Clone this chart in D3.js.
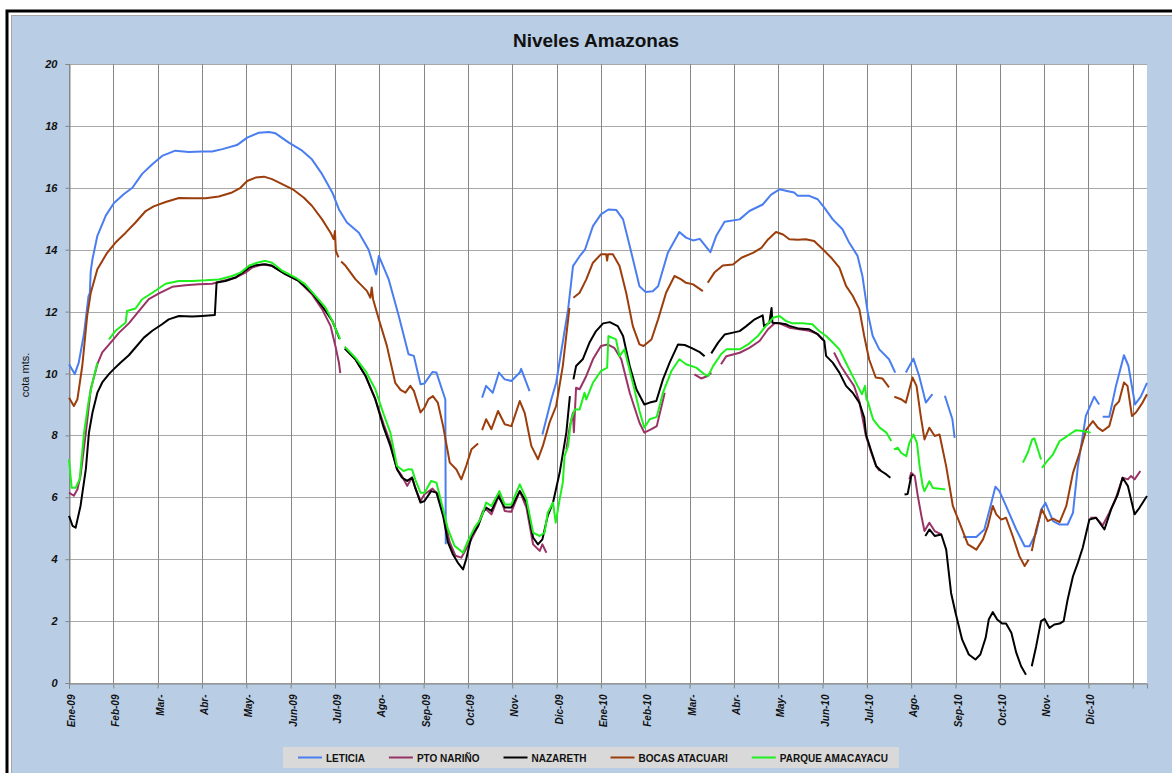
<!DOCTYPE html>
<html>
<head>
<meta charset="utf-8">
<script src="https://cdn.jsdelivr.net/npm/d3@7"></script>
<style>
  body { margin: 0; background: #ffffff; }
  svg text { font-family: "Liberation Sans", Arial, sans-serif; }
</style>
</head>
<body>
<svg id="chart" width="1172" height="773"></svg>
<script>
// Month labels along the category axis (one every month, Jan 2009 .. Jan 2011)
const monthLabels = ["Ene-09","Feb-09","Mar-","Abr-","May-","Jun-09","Jul-09","Ago-","Sep-09","Oct-09","Nov-","Dic-09",
  "Ene-10","Feb-10","Mar-","Abr-","May-","Jun-10","Jul-10","Ago-","Sep-10","Oct-10","Nov-","Dic-10",""];
const yTicks = [0, 2, 4, 6, 8, 10, 12, 14, 16, 18, 20];
const seriesNames = ["LETICIA", "PTO NARIÑO", "NAZARETH", "BOCAS ATACUARI", "PARQUE AMACAYACU"];

// Each station: [month offset since Ene-09, level in metres]; null marks a gap in the record
const leticia = [[0.0,10.3],[0.13,9.98],[0.22,10.35],[0.34,11.3],[0.44,12.5],[0.47,12.6],[0.49,13.3],[0.53,13.7],[0.64,14.45],[0.83,15.1],[1.01,15.5],[1.24,15.8],[1.43,16.0],[1.65,16.45],[1.88,16.76],[2.1,17.03],[2.4,17.2],[2.7,17.16],[3.0,17.17],[3.23,17.17],[3.46,17.25],[3.79,17.38],[4.02,17.62],[4.28,17.78],[4.51,17.8],[4.66,17.76],[4.96,17.46],[5.26,17.2],[5.48,16.92],[5.71,16.44],[5.94,15.85],[6.09,15.3],[6.27,14.88],[6.54,14.55],[6.76,14.0],[6.93,13.2],[6.99,13.8],[7.21,13.05],[7.44,11.86],[7.66,10.62],[7.78,10.57],[7.93,9.65],[8.02,9.68],[8.2,10.05],[8.29,10.03],[8.44,9.38],[8.49,9.16],[8.5,4.48],null,
  [9.32,9.22],[9.41,9.6],[9.56,9.38],[9.7,10.03],[9.83,9.81],[9.98,9.76],[10.17,10.03],[10.2,10.15],[10.39,9.43],null,
  [10.68,8.03],[10.88,9.16],[10.99,9.7],[11.1,10.67],[11.26,12.07],[11.37,13.47],[11.52,13.79],[11.64,14.0],[11.82,14.76],[12.0,15.14],[12.17,15.3],[12.35,15.28],[12.5,14.98],[12.65,14.12],[12.87,12.82],[13.01,12.63],[13.17,12.66],[13.29,12.82],[13.51,13.9],[13.77,14.57],[13.92,14.39],[14.08,14.3],[14.23,14.35],[14.47,13.92],[14.6,14.44],[14.79,14.9],[15.13,14.98],[15.35,15.25],[15.65,15.46],[15.84,15.78],[16.03,15.95],[16.22,15.89],[16.36,15.85],[16.44,15.74],[16.7,15.74],[16.89,15.63],[17.04,15.36],[17.23,14.98],[17.45,14.66],[17.6,14.23],[17.79,13.8],[17.9,13.15],[18.02,11.97],[18.13,11.22],[18.28,10.78],[18.5,10.46],[18.64,10.03],null,
  [18.88,10.03],[19.05,10.48],[19.18,9.92],[19.33,9.06],[19.48,9.33],null,
  [19.76,9.28],[19.93,8.52],[19.98,7.92],null,
  [20.17,4.72],[20.47,4.72],[20.65,4.96],[20.79,5.72],[20.9,6.34],[20.99,6.2],[21.14,5.72],[21.37,4.96],[21.56,4.42],[21.67,4.42],[21.82,4.85],[21.93,5.6],[22.03,5.82],[22.2,5.23],[22.35,5.12],[22.53,5.12],[22.65,5.5],[22.76,7.0],[22.87,7.98],[22.94,8.63],[23.13,9.25],[23.24,9.0],null,
  [23.32,8.6],[23.47,8.6],[23.62,9.6],[23.8,10.59],[23.9,10.25],[24.05,9.0],[24.18,9.25],[24.32,9.7]];

const ptoNarino = [[0.0,6.15],[0.11,6.05],[0.19,6.26],[0.26,6.69],[0.38,8.09],[0.49,9.49],[0.64,10.3],[0.75,10.68],[0.94,11.0],[1.13,11.32],[1.35,11.62],[1.58,12.02],[1.8,12.4],[2.03,12.59],[2.33,12.8],[2.63,12.85],[2.93,12.88],[3.23,12.9],[3.46,12.99],[3.76,13.1],[3.98,13.26],[4.13,13.42],[4.36,13.52],[4.58,13.48],[4.88,13.21],[5.18,12.99],[5.48,12.56],[5.71,12.08],[5.9,11.54],[6.01,10.89],[6.09,10.35],[6.12,10.01],null,
  [6.24,10.81],[6.46,10.46],[6.69,9.92],[6.91,9.17],[7.1,8.36],[7.25,7.77],[7.4,6.91],[7.51,6.69],[7.63,6.37],[7.74,6.64],[7.81,6.31],[7.93,5.88],[8.02,6.1],[8.2,6.28],[8.32,6.1],[8.47,5.29],[8.59,4.54],[8.72,4.11],[8.85,4.05],[9.04,4.54],[9.19,4.97],[9.34,5.56],[9.41,5.61],[9.53,5.45],[9.71,6.1],[9.83,5.56],[9.98,5.53],[10.17,6.2],[10.32,5.67],[10.47,4.48],[10.62,4.27],[10.68,4.48],[10.77,4.21],null,
  [11.22,7.55],[11.3,8.3],[11.37,8.73],[11.39,8.1],[11.44,9.54],[11.52,9.49],[11.67,9.92],[11.82,10.46],[12.0,10.89],[12.15,10.94],[12.3,10.83],[12.46,10.46],[12.65,9.38],[12.87,8.41],[12.98,8.09],[13.14,8.2],[13.26,8.3],[13.44,9.38],null,
  [14.11,9.97],[14.26,9.84],[14.41,9.92],[14.49,10.03],null,
  [14.71,10.3],[14.83,10.56],[15.13,10.67],[15.35,10.83],[15.58,11.05],[15.77,11.43],[15.92,11.62],[16.03,11.62],[16.25,11.48],[16.47,11.43],[16.7,11.38],[16.89,11.27],[17.0,11.1],null,
  [17.26,10.68],[17.41,10.25],[17.56,9.92],[17.71,9.6],[17.83,9.1],[17.98,7.98],[18.1,7.44],[18.21,7.0],[18.29,6.85],null,
  [18.96,6.58],[19.0,6.79],[19.08,6.69],[19.15,6.04],[19.23,5.4],[19.3,4.91],[19.41,5.18],[19.53,4.91],[19.68,4.8],null,
  [23.04,5.34],[23.17,5.34],[23.32,5.09],[23.47,5.5],[23.62,5.98],[23.77,6.63],[23.89,6.58],[23.96,6.69],[24.04,6.58],[24.17,6.85]];

const nazareth = [[0.0,5.4],[0.08,5.08],[0.15,5.02],[0.26,5.72],[0.38,6.91],[0.45,8.09],[0.53,8.74],[0.64,9.38],[0.75,9.71],[0.9,9.98],[1.01,10.14],[1.16,10.35],[1.35,10.59],[1.5,10.84],[1.69,11.16],[1.88,11.38],[2.1,11.59],[2.25,11.75],[2.48,11.86],[2.78,11.84],[3.0,11.86],[3.29,11.89],[3.33,12.94],[3.53,12.99],[3.76,13.1],[3.91,13.26],[4.06,13.42],[4.21,13.5],[4.43,13.53],[4.58,13.48],[4.88,13.21],[5.18,12.99],[5.48,12.61],[5.71,12.18],[5.94,11.7],[6.05,11.32],[6.1,11.13],null,
  [6.22,10.81],[6.46,10.46],[6.69,9.92],[6.91,9.17],[7.1,8.25],[7.25,7.66],[7.4,6.91],[7.51,6.64],[7.63,6.53],[7.74,6.64],[7.81,6.31],[7.93,5.83],[8.02,5.88],[8.17,6.2],[8.29,6.15],[8.44,5.4],[8.55,4.54],[8.66,4.16],[8.77,3.89],[8.89,3.67],[8.96,4.0],[9.08,4.75],[9.23,5.07],[9.34,5.5],[9.41,5.67],[9.53,5.56],[9.68,6.04],[9.83,5.67],[9.98,5.67],[10.17,6.2],[10.32,5.83],[10.47,4.7],[10.58,4.48],[10.68,4.64],[10.8,5.4],[10.92,5.83],[11.07,6.8],[11.22,8.09],[11.3,9.27],null,
  [11.38,9.81],[11.44,10.24],[11.59,10.46],[11.74,10.99],[11.89,11.37],[12.05,11.62],[12.2,11.66],[12.38,11.53],[12.5,11.21],[12.65,10.24],[12.8,9.49],[12.98,9.0],[13.1,9.06],[13.25,9.11],[13.4,9.81],[13.55,10.35],[13.74,10.94],[13.89,10.92],[14.04,10.83],[14.23,10.69],[14.34,10.56],null,
  [14.49,10.65],[14.64,10.99],[14.79,11.26],[14.98,11.32],[15.13,11.37],[15.28,11.53],[15.47,11.75],[15.65,11.88],[15.68,11.53],[15.8,11.64],[15.85,12.12],[15.87,11.64],[16.03,11.62],[16.18,11.59],[16.25,11.54],[16.47,11.45],[16.7,11.43],[16.89,11.27],[17.04,11.05],[17.08,10.57],[17.23,10.35],[17.38,10.03],[17.53,9.6],[17.68,9.38],[17.83,9.06],[17.94,8.58],[17.98,8.03],[18.1,7.49],[18.21,7.01],[18.32,6.85],[18.44,6.74],[18.53,6.63],null,
  [18.85,6.09],[18.92,6.11],[19.0,6.69],[19.04,6.74],null,
  [19.32,4.75],[19.41,4.96],[19.53,4.75],[19.68,4.8],[19.79,4.31],[19.9,2.91],[20.0,2.27],[20.15,1.4],[20.3,0.92],[20.45,0.76],[20.56,0.92],[20.68,1.46],[20.75,2.05],[20.84,2.29],[20.94,2.05],[21.05,1.92],[21.14,1.92],[21.26,1.62],[21.37,0.98],[21.48,0.54],[21.59,0.27],null,
  [21.72,0.54],[21.82,1.19],[21.93,2.0],[22.01,2.07],[22.12,1.78],[22.23,1.89],[22.35,1.92],[22.44,2.0],[22.53,2.7],[22.65,3.45],[22.76,3.88],[22.87,4.37],[23.02,5.28],[23.17,5.34],[23.36,4.96],[23.51,5.61],[23.66,6.09],[23.77,6.63],[23.89,6.36],[24.04,5.45],[24.15,5.66],[24.32,6.04]];

const bocasAtacuari = [[0.0,9.22],[0.11,8.95],[0.19,9.17],[0.3,10.25],[0.41,11.86],[0.49,12.6],[0.64,13.37],[0.86,13.9],[1.05,14.23],[1.28,14.55],[1.5,14.88],[1.73,15.25],[1.91,15.4],[2.18,15.54],[2.48,15.67],[2.78,15.66],[3.08,15.66],[3.38,15.72],[3.68,15.85],[3.87,16.0],[4.02,16.22],[4.21,16.33],[4.4,16.36],[4.58,16.28],[4.81,16.12],[5.07,15.93],[5.3,15.68],[5.48,15.42],[5.71,14.98],[5.9,14.55],[5.97,14.34],[6.0,14.6],[6.02,13.96],[6.08,13.75],null,
  [6.14,13.62],[6.24,13.48],[6.46,13.05],[6.72,12.67],[6.8,12.45],[6.83,12.78],[6.86,12.4],[6.99,11.75],[7.17,10.9],[7.36,9.7],[7.48,9.47],[7.59,9.38],[7.7,9.6],[7.78,9.44],[7.93,8.74],[8.02,8.9],[8.11,9.17],[8.21,9.27],[8.32,9.06],[8.44,8.3],[8.59,7.12],[8.74,6.9],[8.85,6.58],[8.96,7.01],[9.08,7.55],[9.23,7.74],null,
  [9.32,8.17],[9.41,8.52],[9.53,8.2],[9.68,8.79],[9.83,8.36],[9.98,8.3],[10.17,9.11],[10.28,8.73],[10.43,7.66],[10.58,7.23],[10.69,7.66],[10.84,8.41],[10.99,8.95],[11.14,10.24],[11.29,12.12],null,
  [11.38,12.45],[11.52,12.61],[11.67,13.04],[11.82,13.58],[12.0,13.85],[12.12,13.85],[12.14,13.65],[12.16,13.85],[12.27,13.85],[12.42,13.47],[12.57,12.61],[12.72,11.53],[12.87,10.94],[12.96,10.89],[13.14,11.1],[13.29,11.75],[13.47,12.61],[13.66,13.15],[13.81,13.04],[13.92,12.93],[14.08,12.88],[14.3,12.66],null,
  [14.41,12.93],[14.56,13.26],[14.75,13.49],[14.98,13.52],[15.17,13.74],[15.43,13.9],[15.62,14.06],[15.77,14.33],[15.95,14.57],[16.11,14.49],[16.25,14.34],[16.44,14.32],[16.62,14.34],[16.81,14.28],[17.0,14.02],[17.19,13.75],[17.38,13.42],[17.53,12.83],[17.68,12.51],[17.83,12.08],[17.94,11.21],[18.05,10.46],[18.2,9.87],[18.35,9.84],[18.5,9.55],null,
  [18.62,9.25],[18.77,9.17],[18.88,9.06],[19.03,9.87],[19.12,9.6],[19.22,8.58],[19.3,7.87],[19.41,8.25],[19.53,7.98],[19.64,8.03],[19.79,7.0],[19.94,5.72],[20.09,5.18],[20.28,4.48],[20.47,4.31],[20.62,4.64],[20.73,5.07],[20.84,5.72],[20.92,5.45],[21.03,5.28],[21.14,5.34],[21.29,4.75],[21.44,4.1],[21.56,3.78],[21.65,3.99],null,
  [21.72,4.26],[21.82,4.96],[21.95,5.61],[22.08,5.23],[22.2,5.31],[22.35,5.2],[22.5,5.72],[22.65,6.79],[22.8,7.44],[22.95,8.19],[23.1,8.46],[23.21,8.25],[23.32,8.14],[23.47,8.3],[23.59,8.95],[23.69,9.1],[23.8,9.71],[23.88,9.6],[23.98,8.63],[24.07,8.74],[24.22,9.06],[24.32,9.33]];

const parqueAmacayacu = [[0.0,7.23],[0.06,6.31],[0.15,6.31],[0.24,6.58],[0.34,8.09],[0.45,9.17],[0.53,9.71],[0.64,10.35],null,
  [0.9,11.1],[1.05,11.38],[1.28,11.65],[1.31,12.02],[1.5,12.1],[1.65,12.4],[1.88,12.61],[2.18,12.9],[2.48,12.99],[2.78,12.99],[3.08,13.01],[3.38,13.04],[3.68,13.15],[3.87,13.26],[4.06,13.48],[4.24,13.58],[4.43,13.64],[4.58,13.58],[4.81,13.32],[5.11,13.1],[5.33,12.88],[5.56,12.51],[5.79,12.13],[5.94,11.7],[6.05,11.32],[6.12,11.1],null,
  [6.22,10.87],[6.46,10.51],[6.69,10.08],[6.91,9.49],[7.1,8.68],[7.25,8.09],[7.4,7.01],[7.55,6.85],[7.66,6.91],[7.74,6.9],[7.81,6.58],[7.93,6.15],[8.02,6.15],[8.17,6.53],[8.29,6.47],[8.44,5.61],[8.55,4.97],[8.7,4.43],[8.89,4.21],[9.0,4.59],[9.15,5.02],[9.26,5.24],[9.34,5.5],[9.41,5.83],[9.53,5.72],[9.71,6.2],[9.83,5.77],[9.98,5.77],[10.17,6.42],[10.32,5.94],[10.47,4.86],[10.62,4.75],[10.73,4.86],[10.8,5.5],[10.92,5.83],[10.98,5.18],[11.07,5.94],[11.14,6.47],[11.18,7.33],[11.26,7.66],[11.33,8.52],[11.41,8.84],[11.52,8.84],[11.63,9.38],[11.67,9.16],[11.82,9.7],[12.0,10.08],[12.14,10.19],[12.17,11.21],[12.34,11.1],[12.42,10.56],[12.53,10.78],[12.72,9.7],[12.87,8.79],[12.98,8.25],[13.1,8.52],[13.26,8.6],[13.4,9.38],[13.59,10.08],[13.77,10.46],[13.92,10.3],[14.15,10.19],[14.34,9.97],[14.42,9.92],[14.53,10.24],[14.71,10.62],[14.83,10.78],[15.13,10.78],[15.32,10.94],[15.54,11.21],[15.69,11.48],[15.88,11.8],[16.03,11.86],[16.17,11.7],[16.32,11.62],[16.55,11.62],[16.77,11.59],[16.92,11.38],[17.08,11.21],[17.23,11.0],[17.38,10.78],[17.49,10.46],[17.64,10.03],[17.79,9.6],[17.89,9.33],[17.96,9.6],[17.99,9.17],[18.02,9.1],[18.14,8.52],[18.29,8.25],[18.44,8.09],[18.55,7.82],null,
  [18.61,7.55],[18.7,7.6],[18.77,7.44],[18.89,7.33],[18.96,7.76],[19.05,8.03],[19.13,7.76],[19.19,7.0],[19.26,6.36],[19.3,6.2],[19.41,6.52],[19.49,6.3],[19.64,6.28],[19.77,6.25],null,
  [21.52,7.12],[21.63,7.44],[21.73,7.87],[21.78,7.9],[21.93,7.22],null,
  [21.95,6.95],[22.04,7.12],[22.2,7.39],[22.35,7.82],[22.47,7.93],[22.57,8.03],[22.72,8.17],[22.87,8.14],[23.05,8.09]];

const seriesData = [leticia, ptoNarino, nazareth, bocasAtacuari, parqueAmacayacu];
const seriesColors = ["#4a7ef0", "#993366", "#000000", "#9c3d0c", "#1ef01e"];

const svg = d3.select("#chart");

// Chart frame and background
svg.append("rect").attr("x", 7).attr("y", 11).attr("width", 1180).attr("height", 780)
  .attr("fill", "none").attr("stroke", "#000").attr("stroke-width", 3);
svg.append("rect").attr("x", 11.5).attr("y", 15.5).attr("width", 1175).attr("height", 775)
  .attr("fill", "#b9cde5").attr("stroke", "#a6a6a6").attr("stroke-width", 1);

const margin = { left: 69, top: 64, right: 1147, bottom: 683 };
const x = d3.scaleLinear().domain([0, 24.32]).range([margin.left, margin.right]);
const y = d3.scaleLinear().domain([0, 20]).range([margin.bottom, margin.top]);

// Plot area
svg.append("rect").attr("x", margin.left).attr("y", margin.top)
  .attr("width", margin.right - margin.left).attr("height", margin.bottom - margin.top)
  .attr("fill", "#ffffff");

// Gridlines
const monthIdx = d3.range(monthLabels.length);
svg.append("g").selectAll("line").data(yTicks).join("line")
  .attr("x1", margin.left).attr("x2", margin.right)
  .attr("y1", d => Math.round(y(d)) + 0.5).attr("y2", d => Math.round(y(d)) + 0.5)
  .attr("stroke", "#a8a8a8").attr("stroke-width", 1);
svg.append("g").selectAll("line").data(monthIdx).join("line")
  .attr("x1", d => Math.round(x(d)) + 0.5).attr("x2", d => Math.round(x(d)) + 0.5)
  .attr("y1", margin.top).attr("y2", margin.bottom)
  .attr("stroke", "#868686").attr("stroke-width", 1);

// Axes
const yAxis = d3.axisLeft(y).tickValues(yTicks).tickSize(4).tickPadding(8).tickFormat(d3.format("d"));
const gy = svg.append("g").attr("transform", `translate(${margin.left + 0.5},0)`).call(yAxis);
gy.select(".domain").attr("stroke", "#868686");
gy.selectAll(".tick line").attr("stroke", "#868686");
gy.selectAll(".tick text").attr("fill", "#111").attr("font-size", 11)
  .attr("font-weight", "bold").attr("font-style", "italic");

const xAxis = d3.axisBottom(x).tickValues(monthIdx).tickSize(5).tickFormat(i => monthLabels[i]);
const gx = svg.append("g").attr("transform", `translate(0,${margin.bottom + 0.5})`).call(xAxis);
gx.select(".domain").attr("stroke", "#868686");
gx.selectAll(".tick line").attr("stroke", "#868686");
gx.selectAll(".tick text").attr("fill", "#111").attr("font-size", 10)
  .attr("font-weight", "bold").attr("font-style", "italic")
  .attr("text-anchor", "end")
  .attr("transform", "translate(2,11) rotate(-90)")
  .attr("x", 0).attr("y", 0).attr("dy", "0.35em");

// Station lines
const line = d3.line().defined(d => d !== null).x(d => x(d[0])).y(d => y(d[1]));
seriesData.forEach((data, i) => {
  svg.append("path").datum(data)
    .attr("fill", "none").attr("stroke", seriesColors[i]).attr("stroke-width", 2)
    .attr("stroke-linejoin", "round").attr("d", line);
});

// Title and axis title
svg.append("text").attr("x", 596).attr("y", 47).attr("text-anchor", "middle")
  .attr("font-size", 19).attr("font-weight", "bold").attr("fill", "#111").text("Niveles Amazonas");
svg.append("text").attr("transform", "translate(29,375) rotate(-90)").attr("text-anchor", "middle")
  .attr("font-size", 11).attr("fill", "#111").text("cota mts.");

// Legend
const legend = svg.append("g");
const legendBox = legend.append("rect").attr("y", 747).attr("height", 21).attr("fill", "#d9d9d9");
let lx = 298;
seriesNames.forEach((name, i) => {
  legend.append("line").attr("x1", lx).attr("x2", lx + 24).attr("y1", 757.5).attr("y2", 757.5)
    .attr("stroke", seriesColors[i]).attr("stroke-width", 2);
  const t = legend.append("text").attr("x", lx + 28).attr("y", 761.5).attr("font-size", 10)
    .attr("font-weight", "bold").attr("fill", "#111").text(name);
  lx += 28 + t.node().getComputedTextLength() + 24;
});
legendBox.attr("x", 283).attr("width", lx - 24 + 11 - 283);
</script>
</body>
</html>
